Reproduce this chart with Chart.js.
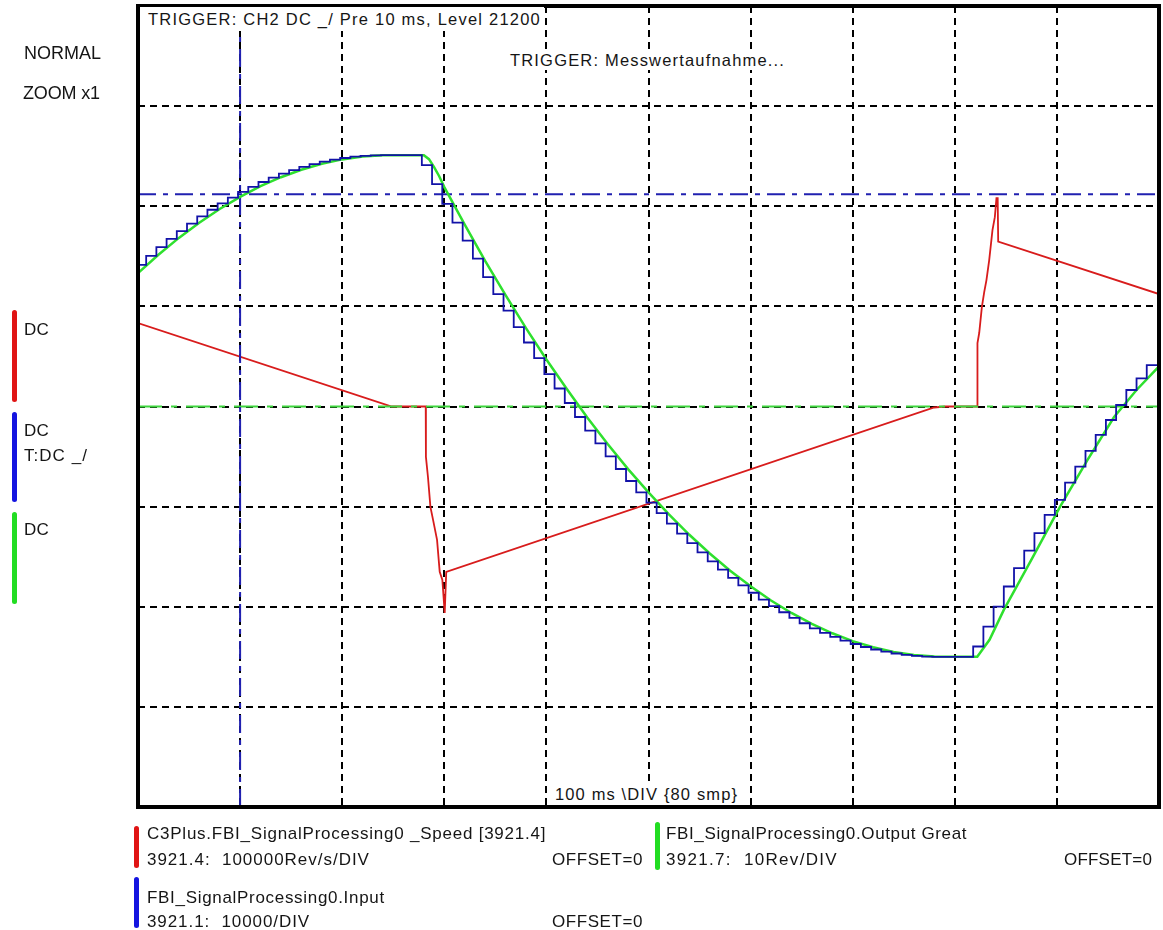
<!DOCTYPE html>
<html>
<head>
<meta charset="utf-8">
<script src="https://cdn.jsdelivr.net/npm/chart.js@4"></script>
<style>
body { margin: 0; background: #fff; }
#wrap { position: relative; width: 1163px; height: 930px; }
.t { position: absolute; font-family: "Liberation Sans", Arial, sans-serif; color: #151515; white-space: pre; line-height: 1; }
.bar { position: absolute; width: 5px; border-radius: 3px; }
.box { position: absolute; background: #fff; }
</style>
</head>
<body>
<div id="wrap">
<canvas id="scope"></canvas>

<div class="t" data-w="77" style="left:24px;top:44px;font-size:18px">NORMAL</div>
<div class="t" data-w="77" style="left:23px;top:84px;font-size:18px">ZOOM x1</div>

<div class="bar" style="left:12px;top:310px;height:92px;background:#e01414"></div>
<div class="bar" style="left:12px;top:412px;height:90px;background:#1414e0"></div>
<div class="bar" style="left:12px;top:512px;height:92px;background:#22dd22"></div>
<div class="t" data-w="25" style="left:24px;top:321px;font-size:17px">DC</div>
<div class="t" data-w="25" style="left:24px;top:422px;font-size:17px">DC</div>
<div class="t" data-w="64" style="left:24px;top:447px;font-size:17px">T:DC _/</div>
<div class="t" data-w="25" style="left:24px;top:521px;font-size:17px">DC</div>

<div class="box" style="left:140px;top:7px;width:404px;height:24px"></div>
<div class="t" data-w="393" style="left:148px;top:11px;font-size:16.5px">TRIGGER: CH2 DC _/ Pre 10 ms, Level 21200</div>
<div class="box" style="left:506px;top:50px;width:283px;height:20px"></div>
<div class="t" data-w="275" style="left:510px;top:52px;font-size:16.5px">TRIGGER: Messwertaufnahme...</div>
<div class="box" style="left:550px;top:782px;width:192px;height:23px"></div>
<div class="t" data-w="183" style="left:555px;top:786px;font-size:16.5px">100 ms \DIV {80 smp}</div>

<div class="bar" style="left:134px;top:826px;height:42px;background:#e01414"></div>
<div class="t" data-w="399" style="left:147px;top:825px;font-size:17px">C3Plus.FBI_SignalProcessing0 _Speed [3921.4]</div>
<div class="t" data-w="223" style="left:147px;top:851px;font-size:17px">3921.4:  100000Rev/s/DIV</div>
<div class="t" data-w="91" style="left:552px;top:851px;font-size:17px">OFFSET=0</div>

<div class="bar" style="left:134px;top:877px;height:51px;background:#1414e0"></div>
<div class="t" data-w="238" style="left:147px;top:889px;font-size:17px">FBI_SignalProcessing0.Input</div>
<div class="t" data-w="163" style="left:147px;top:913px;font-size:17px">3921.1:  10000/DIV</div>
<div class="t" data-w="91" style="left:552px;top:913px;font-size:17px">OFFSET=0</div>

<div class="bar" style="left:655px;top:822px;height:48px;background:#22dd22"></div>
<div class="t" data-w="301" style="left:666px;top:825px;font-size:17px">FBI_SignalProcessing0.Output Great</div>
<div class="t" data-w="172" style="left:666px;top:851px;font-size:17px">3921.7:  10Rev/DIV</div>
<div class="t" data-w="88" style="left:1064px;top:851px;font-size:17px">OFFSET=0</div>
</div>

<script>
// time in ms, 100 ms per division
const greenT = [0, 20, 40, 60, 80, 100, 120, 140, 160, 180, 200, 220, 240, 280, 285, 290, 295, 300,
    320, 340, 360, 380, 400, 420, 440, 460, 480, 500, 520, 540, 560, 580, 600, 620, 640, 660, 680,
    700, 720, 740, 760, 780, 822, 834, 848, 876, 903, 930, 956, 978, 1000];
// Output Great, Rev (10 Rev/DIV)
const greenV = [13.32, 15.15, 16.84, 18.35, 19.73, 20.94, 22.0, 22.9, 23.64, 24.24, 24.68, 24.96, 25.09, 25.1, 24.7, 23.9, 23.0, 21.91,
    18.16, 14.55, 11.12, 7.82, 4.7, 1.74, -1.09, -3.74, -6.25, -8.58, -10.77, -12.81, -14.68, -16.41, -17.96, -19.37, -20.62, -21.71, -22.65,
    -23.43, -24.05, -24.52, -24.83, -24.98, -25.0, -23.3, -20.31, -15.12, -10.03, -5.34, -1.05, 1.65, 4.0];

// Speed, Rev/s (100000 Rev/s/DIV)
const redT = [0, 248.5, 281.8, 282.0, 284.0, 286.4, 289.0, 292.9, 295.5, 298.1, 300.4, 301.9, 779.8, 790.6,
    821.9, 822.2, 823.9, 826.5, 828.8, 831.0, 833.7, 836.9, 839.2, 840.8, 842.0, 842.5, 1000];
const redV = [83300, 0, 0, -50400, -70400, -100300, -113300, -133200, -165200, -173200, -206100, -165200, -1000, 0,
    0, 63400, 73400, 99300, 114300, 126300, 146200, 176200, 189100, 208100, 208100, 164700, 112300];

// Input, one sample every 10 ms (10000/DIV)
const blueStart = -2;
const blueStep = 10;
const blueV = [
    14150, 15050, 15910, 16750, 17520, 18270, 18980, 19650, 20280, 20870,
    21430, 21940, 22420, 22850, 23250, 23610, 23930, 24210, 24450, 24660,
    24820, 24950, 25040, 25090, 25100, 25100, 25100, 25100, 24100, 22200,
    20230, 18370, 16560, 14760, 12920, 11230, 9580, 7930, 6390, 4840,
    3240, 1800, 350, -1050, -2400, -3690, -4990, -6240, -7440, -8580,
    -9600, -10650, -11690, -12700, -13650, -14570, -15460, -16300, -17120, -17870,
    -18600, -19290, -19940, -20550, -21120, -21650, -22150, -22600, -23010, -23380,
    -23720, -24020, -24270, -24490, -24670, -24810, -24910, -24980, -25000, -25000,
    -25000, -25000, -23970, -21980, -19980, -17980, -16150, -14390, -12650, -10830,
    -9330, -7600, -6010, -4440, -2840, -1350, 150, 1650, 2810, 4140,
    4140, 4140];

const triggerLevel = 21200;
const triggerTime = 100;
const divs = 4;
const greenPerDiv = 10, bluePerDiv = 10000, redPerDiv = 100000;

const pts = (t, v) => t.map((x, i) => ({ x: x, y: v[i] }));
const bluePts = blueV.map((v, i) => ({ x: blueStart + i * blueStep, y: v }));

const scopeFrame = {
    id: "scopeFrame",
    afterDatasetsDraw(chart) {
        const a = chart.chartArea;
        const ctx = chart.ctx;
        ctx.save();
        ctx.setLineDash([]);
        ctx.lineWidth = 4;
        ctx.strokeStyle = "#000";
        ctx.strokeRect(a.left, a.top, a.right - a.left, a.bottom - a.top);
        ctx.restore();
    }
};

const line = (data, color, width, axis, order, extra) => Object.assign({
    data: data, borderColor: color, borderWidth: width, yAxisID: axis, order: order,
    pointRadius: 0, tension: 0, fill: false
}, extra || {});

new Chart(document.getElementById("scope"), {
    type: "line",
    data: {
        datasets: [
            line(bluePts, "#1212a8", 1.8, "yB", 0, { stepped: "before" }),
            line(pts(greenT, greenV), "#2ee02e", 2.5, "yG", 1),
            line([{ x: 0, y: triggerLevel }, { x: 1000, y: triggerLevel }], "#2020b0", 2, "yB", 2, { borderDash: [18, 7, 5, 7] }),
            line([{ x: triggerTime, y: -divs * bluePerDiv }, { x: triggerTime, y: divs * bluePerDiv }], "#2020b0", 2, "yB", 3, { borderDash: [18, 7, 5, 7] }),
            line([{ x: 0, y: 0 }, { x: 1000, y: 0 }], "#3ed63e", 2, "yG", 4, { borderDash: [24, 9, 6, 9] }),
            line(pts(redT, redV), "#d81c1c", 1.8, "yR", 5)
        ]
    },
    options: {
        responsive: true,
        maintainAspectRatio: false,
        animation: false,
        events: [],
        layout: { padding: { left: 138, top: 6, right: 4, bottom: 123 } },
        plugins: { legend: { display: false }, tooltip: { enabled: false } },
        scales: {
            x: {
                type: "linear", min: 0, max: 1000,
                ticks: { stepSize: 100, display: false },
                grid: { color: "#000", lineWidth: 2, drawTicks: false },
                border: { display: false, dash: [7, 5] }
            },
            yG: {
                type: "linear", position: "left", min: -divs * greenPerDiv, max: divs * greenPerDiv,
                ticks: { stepSize: greenPerDiv, display: false },
                grid: { color: "#000", lineWidth: 2, drawTicks: false },
                border: { display: false, dash: [7, 5] }
            },
            yB: { type: "linear", display: false, min: -divs * bluePerDiv, max: divs * bluePerDiv },
            yR: { type: "linear", display: false, min: -divs * redPerDiv, max: divs * redPerDiv }
        }
    },
    plugins: [scopeFrame]
});

// stretch each label to the width it has in the screen copy
document.querySelectorAll(".t[data-w]").forEach(el => {
    const want = +el.dataset.w;
    const have = el.getBoundingClientRect().width;
    const n = el.textContent.length;
    el.style.letterSpacing = ((want - have) / n).toFixed(2) + "px";
});
</script>
</body>
</html>
